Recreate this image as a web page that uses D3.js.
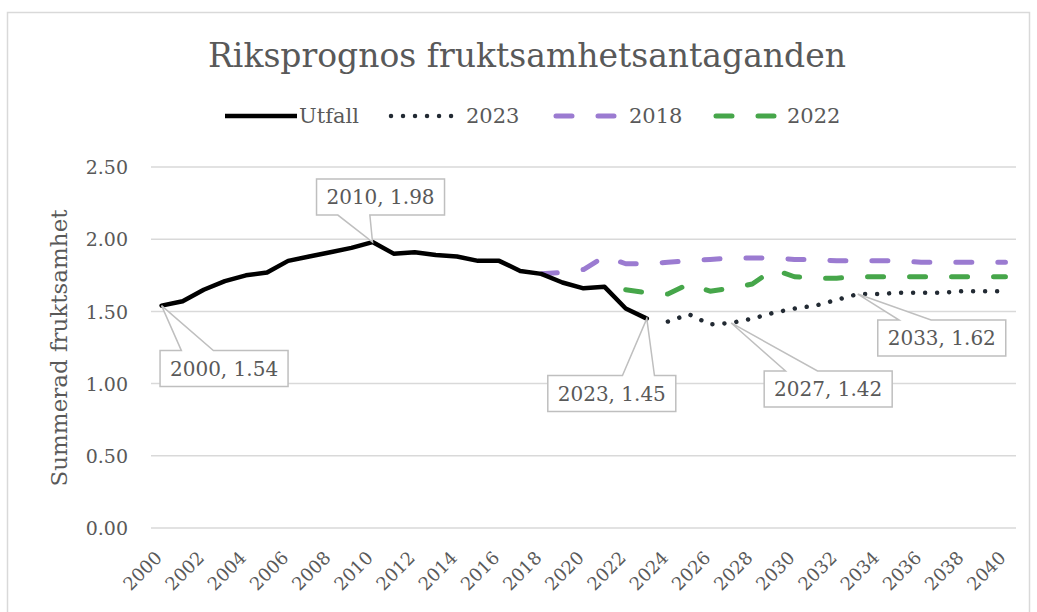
<!DOCTYPE html>
<html>
<head>
<meta charset="utf-8">
<script src="https://cdn.jsdelivr.net/npm/d3@7"></script>
<style>
  body { margin: 0; background: #fff; }
  svg { display: block; font-family: Georgia, "DejaVu Serif", serif; }
</style>
</head>
<body>
<svg id="chart" width="1037" height="612"></svg>
<script>
// categories
var years = d3.range(2000, 2041);
var yTicks = [0, 0.5, 1, 1.5, 2, 2.5];

// Utfall (2000-2023)
var utfallStart = 2000;
var utfall = [1.54, 1.57, 1.65, 1.71, 1.75, 1.77, 1.85, 1.88, 1.91, 1.94, 1.98, 1.90,
              1.91, 1.89, 1.88, 1.85, 1.85, 1.78, 1.76, 1.70, 1.66, 1.67, 1.52, 1.45];

// prognos 2023 (2024-2040)
var prog2023Start = 2024;
var prog2023 = [1.43, 1.48, 1.41, 1.42, 1.45, 1.49, 1.52, 1.54, 1.58, 1.62,
                1.62, 1.63, 1.63, 1.63, 1.64, 1.64, 1.64];

// prognos 2018 (2018-2040)
var prog2018Start = 2018;
var prog2018 = [1.76, 1.77, 1.79, 1.88, 1.83, 1.83, 1.84, 1.85, 1.86, 1.87, 1.87, 1.87,
                1.86, 1.86, 1.85, 1.85, 1.85, 1.85, 1.84, 1.84, 1.84, 1.84, 1.84];

// prognos 2022 (2022-2040)
var prog2022Start = 2022;
var prog2022 = [1.65, 1.63, 1.62, 1.69, 1.64, 1.66, 1.69, 1.79, 1.74, 1.73, 1.73, 1.74,
                1.74, 1.74, 1.74, 1.74, 1.74, 1.74, 1.74];

function toPoints(start, vals) {
    return vals.map(function(v, i){ return { year: start + i, value: v }; });
}

var series = [
    { name: 'Utfall', pts: toPoints(utfallStart, utfall), color: '#000', width: 4.5, dash: null },
    { name: '2023', pts: toPoints(prog2023Start, prog2023), color: '#222a33', width: 4.5, dash: '0.01 12' },
    { name: '2018', pts: toPoints(prog2018Start, prog2018), color: '#9b7bd1', width: 5, dash: '16 26' },
    { name: '2022', pts: toPoints(prog2022Start, prog2022), color: '#46a64a', width: 5, dash: '16 26' }
];

var textColor = '#595959';
var gridColor = '#d9d9d9';

var svg = d3.select('#chart');

// chart border
svg.append('rect')
    .attr('x', 7.5).attr('y', 12.5)
    .attr('width', 1022).attr('height', 640)
    .attr('fill', 'none').attr('stroke', '#d9d9d9').attr('stroke-width', 1.5);

var x = d3.scalePoint().domain(years).range([151, 1016]).padding(0.5);
var y = d3.scaleLinear().domain([0, 2.5]).range([528, 167]);

// title
svg.append('text')
    .attr('x', 527).attr('y', 67)
    .attr('text-anchor', 'middle')
    .attr('fill', textColor)
    .style('font-size', '33px')
    .text('Riksprognos fruktsamhetsantaganden');

// grid
svg.append('g').selectAll('line')
    .data(yTicks)
    .enter().append('line')
    .attr('x1', 151).attr('x2', 1016)
    .attr('y1', function(d){ return y(d); })
    .attr('y2', function(d){ return y(d); })
    .attr('stroke', gridColor).attr('stroke-width', 1.5);

// y axis labels
var yAxis = d3.axisLeft(y).tickValues(yTicks).tickSize(0)
    .tickFormat(d3.format('.2f'));
var gy = svg.append('g').attr('transform', 'translate(128,0)').call(yAxis);
gy.select('.domain').remove();
gy.selectAll('text')
    .attr('x', 0).attr('dy', '0.35em')
    .attr('fill', textColor)
    .style('font-family', 'Georgia, "DejaVu Serif", serif')
    .style('font-size', '19px');

// x axis labels
var xAxis = d3.axisBottom(x)
    .tickValues(years.filter(function(d){ return d % 2 === 0; }))
    .tickSize(0);
var gx = svg.append('g').attr('transform', 'translate(0,528)').call(xAxis);
gx.select('.domain').remove();
gx.selectAll('text')
    .attr('fill', textColor)
    .style('font-family', 'Georgia, "DejaVu Serif", serif')
    .style('font-size', '18px')
    .attr('text-anchor', 'end')
    .attr('x', 0).attr('y', 0).attr('dy', 0)
    .attr('transform', 'translate(1,31) rotate(-45)');

// y axis title
svg.append('text')
    .attr('transform', 'translate(67,348) rotate(-90)')
    .attr('text-anchor', 'middle')
    .attr('fill', textColor)
    .style('font-size', '23px')
    .text('Summerad fruktsamhet');

// lines
var line = d3.line()
    .x(function(d){ return x(d.year); })
    .y(function(d){ return y(d.value); });

svg.append('g').selectAll('path')
    .data(series.slice().reverse())
    .enter().append('path')
    .attr('d', function(s){ return line(s.pts); })
    .attr('fill', 'none')
    .attr('stroke', function(s){ return s.color; })
    .attr('stroke-width', function(s){ return s.width; })
    .attr('stroke-dasharray', function(s){ return s.dash; })
    .attr('stroke-linecap', 'round')
    .attr('stroke-linejoin', 'round');

// legend
var legendPos = [
    { x0: 225, x1: 297, tx: 299 },
    { x0: 391, x1: 458, tx: 466 },
    { x0: 556, x1: 622, tx: 629 },
    { x0: 716, x1: 782, tx: 787 }
];
var lg = svg.append('g').selectAll('g')
    .data(series)
    .enter().append('g');
lg.append('line')
    .attr('x1', function(d, i){ return legendPos[i].x0; })
    .attr('x2', function(d, i){ return legendPos[i].x1; })
    .attr('y1', 116).attr('y2', 116)
    .attr('stroke', function(d){ return d.color; })
    .attr('stroke-width', function(d){ return d.width; })
    .attr('stroke-dasharray', function(d){ return d.dash; })
    .attr('stroke-linecap', function(d){ return d.dash ? 'round' : 'butt'; });
lg.append('text')
    .attr('x', function(d, i){ return legendPos[i].tx; })
    .attr('y', 123)
    .attr('fill', textColor)
    .style('font-size', '21px')
    .text(function(d){ return d.name; });

// data callouts
var callouts = [
    { s: 0, year: 2000, dx: -1.5, dy: 45, side: 'top', f: [1/6, 5/12] },
    { s: 0, year: 2010, dx: -56, dy: -63, side: 'bottom', f: [1/6, 5/12] },
    { s: 0, year: 2023, dx: -99, dy: 57, side: 'top', f: [7/12, 10/12] },
    { s: 1, year: 2027, dx: 33, dy: 48, side: 'top', f: [1/6, 5/12] },
    { s: 1, year: 2033, dx: 20, dy: 26, side: 'top', f: [1/6, 5/12] }
];
var bw = 128, bh = 36;
var cg = svg.append('g').selectAll('g')
    .data(callouts)
    .enter().append('g');
cg.each(function(c){
    var p = series[c.s].pts.filter(function(d){ return d.year === c.year; })[0];
    var px = x(p.year), py = y(p.value);
    var l = px + c.dx, t = py + c.dy, r = l + bw, b = t + bh;
    var a = l + bw * c.f[0], e = l + bw * c.f[1];
    var d;
    if (c.side === 'top') {
        d = 'M' + l + ',' + t + 'L' + a + ',' + t + 'L' + px + ',' + py + 'L' + e + ',' + t +
            'L' + r + ',' + t + 'L' + r + ',' + b + 'L' + l + ',' + b + 'Z';
    } else {
        d = 'M' + l + ',' + t + 'L' + r + ',' + t + 'L' + r + ',' + b + 'L' + e + ',' + b +
            'L' + px + ',' + py + 'L' + a + ',' + b + 'L' + l + ',' + b + 'Z';
    }
    var g = d3.select(this);
    g.append('path')
        .attr('d', d)
        .attr('fill', '#fff')
        .attr('stroke', '#bfbfbf')
        .attr('stroke-width', 1.5);
    g.append('text')
        .attr('x', l + bw / 2).attr('y', t + 25)
        .attr('text-anchor', 'middle')
        .attr('fill', textColor)
        .style('font-size', '20px')
        .text(p.year + ', ' + d3.format('.2f')(p.value));
});
</script>
</body>
</html>
